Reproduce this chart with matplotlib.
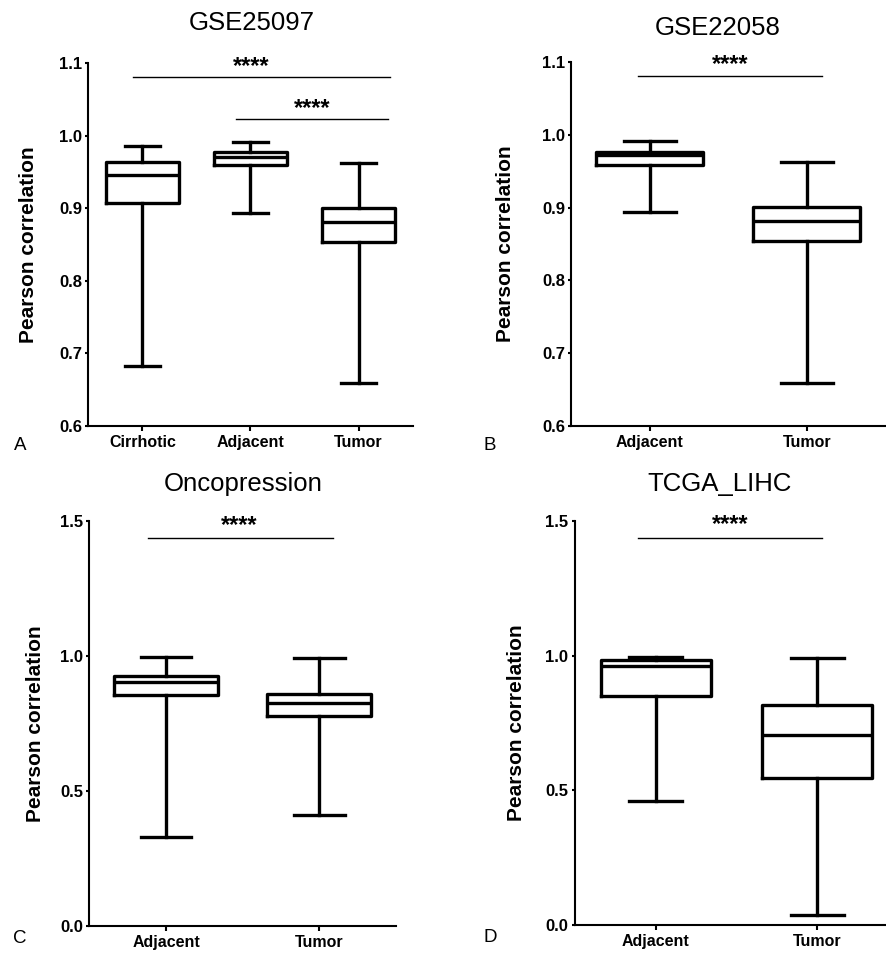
import matplotlib
matplotlib.use("Agg")
import matplotlib.pyplot as plt

plt.rcParams['font.family'] = ['Liberation Sans', 'DejaVu Sans']

# panel A - GSE25097
a_groups = ["Cirrhotic", "Adjacent", "Tumor"]
a_whislo = [0.682, 0.894, 0.659]
a_q1 = [0.907, 0.960, 0.853]
a_med = [0.946, 0.971, 0.881]
a_q3 = [0.964, 0.977, 0.901]
a_whishi = [0.986, 0.992, 0.963]

# panel B - GSE22058
b_groups = ["Adjacent", "Tumor"]
b_whislo = [0.894, 0.659]
b_q1 = [0.959, 0.854]
b_med = [0.972, 0.881]
b_q3 = [0.977, 0.901]
b_whishi = [0.992, 0.963]

# panel C - Oncopression
c_groups = ["Adjacent", "Tumor"]
c_whislo = [0.330, 0.411]
c_q1 = [0.858, 0.780]
c_med = [0.905, 0.826]
c_q3 = [0.928, 0.862]
c_whishi = [0.997, 0.994]

# panel D - TCGA_LIHC
d_groups = ["Adjacent", "Tumor"]
d_whislo = [0.461, 0.035]
d_q1 = [0.850, 0.546]
d_med = [0.961, 0.705]
d_q3 = [0.984, 0.816]
d_whishi = [0.996, 0.992]

W, H = 886, 955
fig = plt.figure(figsize=(W / 100, H / 100), dpi=100)


def px_axes(left, top, right, bottom):
    return fig.add_axes([left / W, 1 - bottom / H, (right - left) / W, (bottom - top) / H])


def draw_panel(ax, groups, lo, q1, med, q3, hi, ylim, yticks, fmt, lw=2.4):
    stats = []
    for i in range(len(groups)):
        stats.append(dict(whislo=lo[i], q1=q1[i], med=med[i], q3=q3[i], whishi=hi[i], label=groups[i]))
    box = dict(color='black', linewidth=lw)
    ax.bxp(stats, widths=0.68, capwidths=0.33, showfliers=False,
           boxprops=box, whiskerprops=box, capprops=box,
           medianprops=dict(color='black', linewidth=lw))
    ax.set_xlim(0.5, len(groups) + 0.5)
    ax.set_ylim(*ylim)
    ax.set_yticks(yticks)
    ax.set_yticklabels([fmt % t for t in yticks])
    for s in ['top', 'right']:
        ax.spines[s].set_visible(False)
    for s in ['left', 'bottom']:
        ax.spines[s].set_linewidth(1.5)
    ax.tick_params(axis='y', length=2.5, width=1.5, pad=2, labelsize=12)
    ax.tick_params(axis='x', length=3.6, width=1.5, pad=3, labelsize=11.5)
    for t in ax.get_xticklabels() + ax.get_yticklabels():
        t.set_fontweight('bold')
    ax.set_ylabel("Pearson correlation", fontsize=15, fontweight='bold')


def sig(ax, x0, x1, y, ys, xs):
    ax.plot([x0, x1], [y, y], color='black', lw=1.0, clip_on=False)
    ax.text(xs, ys, "****", ha='center', va='center', fontsize=17, fontweight='bold', clip_on=False)


axA = px_axes(88.3, 63.3, 412.7, 425.7)
draw_panel(axA, a_groups, a_whislo, a_q1, a_med, a_q3, a_whishi, (0.6, 1.1), [0.6, 0.7, 0.8, 0.9, 1.0, 1.1], "%.1f")
sig(axA, 0.91, 3.29, 1.0807, 1.096, 2.01)
sig(axA, 1.865, 3.275, 1.0228, 1.038, 2.57)
axA.yaxis.set_label_coords(-0.156, 0.5)

axB = px_axes(571.3, 62.3, 885.3, 425.7)
draw_panel(axB, b_groups, b_whislo, b_q1, b_med, b_q3, b_whishi, (0.6, 1.1), [0.6, 0.7, 0.8, 0.9, 1.0, 1.1], "%.1f")
sig(axB, 0.926, 2.094, 1.0816, 1.097, 1.51)
axB.yaxis.set_label_coords(-0.18, 0.5)

axC = px_axes(89.3, 521.3, 396.0, 926.3)
draw_panel(axC, c_groups, c_whislo, c_q1, c_med, c_q3, c_whishi, (0.0, 1.5), [0.0, 0.5, 1.0, 1.5], "%.1f")
sig(axC, 0.88, 2.087, 1.437, 1.485, 1.48)
axC.yaxis.set_label_coords(-0.144, 0.5)

axD = px_axes(574.7, 521.3, 898.1, 924.7)
draw_panel(axD, d_groups, d_whislo, d_q1, d_med, d_q3, d_whishi, (0.0, 1.5), [0.0, 0.5, 1.0, 1.5], "%.1f")
sig(axD, 0.89, 2.03, 1.4375, 1.489, 1.46)
axD.yaxis.set_label_coords(-0.15, 0.5)

titles = [("GSE25097", 251.7, 23.5), ("GSE22058", 718, 28), ("Oncopression", 243, 484), ("TCGA_LIHC", 719.7, 484)]
for txt, x, y in titles:
    fig.text(x / W, 1 - y / H, txt, ha='center', va='center', fontsize=18.5)

letters = [("A", 20, 445), ("B", 489.7, 445), ("C", 20, 938), ("D", 490.7, 937.3)]
for txt, x, y in letters:
    fig.text(x / W, 1 - y / H, txt, ha='center', va='center', fontsize=13.5)

fig.savefig("out.png", dpi=100)
